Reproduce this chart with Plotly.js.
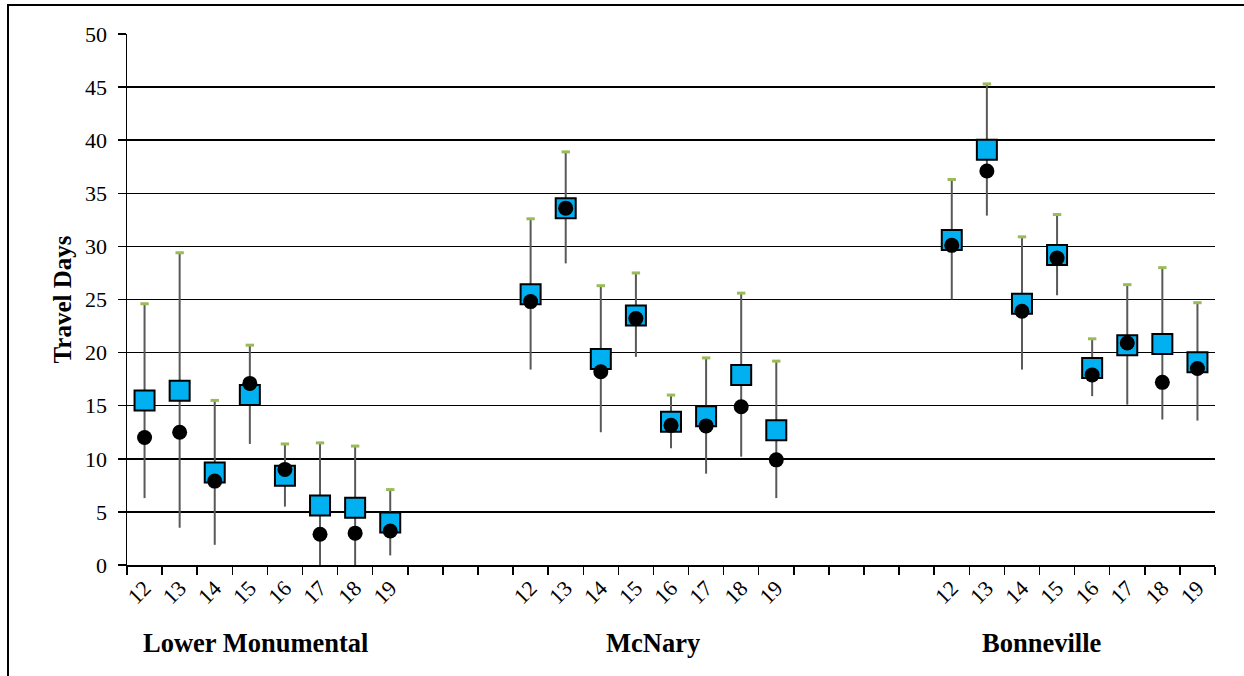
<!DOCTYPE html>
<html>
<head>
<meta charset="utf-8">
<script src="https://cdn.plot.ly/plotly-3.0.1.min.js"></script>
<style>
  html, body { margin: 0; padding: 0; background: #fff; }
  #chart { width: 1244px; height: 676px; }
  #frame { position: absolute; left: 7px; top: 4px; width: 1300px; height: 700px;
           border-left: 2px solid #000; border-top: 2px solid #000; pointer-events: none; }
</style>
</head>
<body>
<div id="chart"></div>
<div id="frame"></div>
<script>
// ---- data ----
const sites = ["Lower Monumental", "McNary", "Bonneville"];
const years = ["12", "13", "14", "15", "16", "17", "18", "19"];

const squareLM  = [15.5, 16.4, 8.7, 16.0, 8.4, 5.6, 5.4, 4.0];
const circleLM  = [12.0, 12.5, 7.9, 17.1, 9.0, 2.9, 3.0, 3.2];
const lowLM     = [6.3, 3.5, 1.9, 11.4, 5.5, 0.0, 0.0, 0.9];
const highLM    = [24.6, 29.4, 15.5, 20.7, 11.4, 11.5, 11.2, 7.1];

const squareMN  = [25.5, 33.6, 19.4, 23.5, 13.5, 14.0, 17.9, 12.7];
const circleMN  = [24.8, 33.6, 18.2, 23.2, 13.15, 13.1, 14.9, 9.9];
const lowMN     = [18.4, 28.4, 12.5, 19.6, 11.0, 8.6, 10.2, 6.3];
const highMN    = [32.6, 38.9, 26.3, 27.5, 16.0, 19.5, 25.6, 19.2];

const squareBO  = [30.6, 39.1, 24.6, 29.2, 18.55, 20.7, 20.8, 19.1];
const circleBO  = [30.1, 37.1, 23.9, 28.9, 17.9, 20.9, 17.2, 18.5];
const lowBO     = [25.0, 32.9, 18.4, 25.4, 15.9, 15.1, 13.7, 13.6];
const highBO    = [36.3, 45.3, 30.9, 33.0, 21.3, 26.4, 28.0, 24.7];

// ---- layout helpers ----
const gapSlots = [3, 4];          // empty category slots between site groups
const labelShift = [-0.34, 0, -0.94]; // group label offsets (slots)

const squares = [squareLM, squareMN, squareBO];
const circles = [circleLM, circleMN, circleBO];
const lows = [lowLM, lowMN, lowBO];
const highs = [highLM, highMN, highBO];

let xs = [], tickText = [], sq = [], ci = [], lo = [], hi = [];
let groupCenters = [];
let start = 0;
sites.forEach((s, g) => {
  years.forEach((yr, i) => {
    xs.push(start + i);
    tickText.push(yr);
    sq.push(squares[g][i]); ci.push(circles[g][i]);
    lo.push(lows[g][i]); hi.push(highs[g][i]);
  });
  groupCenters.push(start + (years.length - 1) / 2);
  start += years.length + (g < gapSlots.length ? gapSlots[g] : 0);
});
const nSlots = start;

const serif = "Liberation Serif";

const traces = [
  {
    type: "scatter", mode: "markers", x: xs, y: sq, hoverinfo: "y",
    marker: { symbol: "square", size: 20, color: "#00B0F0", line: { color: "#000", width: 2 } },
    error_y: {
      type: "data", symmetric: false,
      array: sq.map((v, i) => hi[i] - v),
      arrayminus: sq.map((v, i) => v - lo[i]),
      color: "#595959", thickness: 2, width: 0
    }
  },
  {
    type: "scatter", mode: "markers", x: xs, y: hi, hoverinfo: "y",
    marker: { symbol: "line-ew", size: 6, color: "#9BBB59", line: { color: "#9BBB59", width: 3 } }
  },
  {
    type: "scatter", mode: "markers", x: xs, y: ci, hoverinfo: "y",
    marker: { symbol: "circle", size: 15, color: "#000" }
  }
];

const layout = {
  width: 1244, height: 676,
  margin: { l: 127, r: 29, t: 34, b: 111 },
  paper_bgcolor: "#fff", plot_bgcolor: "#fff",
  showlegend: false,
  font: { family: serif, color: "#000" },
  xaxis: {
    range: [-0.5, nSlots - 0.5],
    tickmode: "array", tickvals: xs, ticktext: tickText,
    ticks: "", tickangle: -45,
    tickfont: { family: serif, size: 22, color: "#000" },
    showgrid: false, zeroline: false,
    showline: true, linecolor: "#000", linewidth: 1.5,
    minor: { tick0: 0.5, dtick: 1, ticks: "outside", ticklen: 8, tickwidth: 1.5, tickcolor: "#000", showgrid: false }
  },
  yaxis: {
    range: [0, 50], tickmode: "linear", tick0: 0, dtick: 5,
    ticks: "outside", ticklen: 8, tickwidth: 1.5, tickcolor: "#000",
    tickfont: { family: serif, size: 22, color: "#000" },
    ticklabelstandoff: 6,
    showgrid: true, gridcolor: "#000", gridwidth: 1.5,
    showline: true, linecolor: "#000", linewidth: 1.5, zeroline: false,
    title: { text: "<b>Travel Days</b>", font: { family: serif, size: 25, color: "#000" }, standoff: 6 }
  },
  annotations: sites.map((s, g) => ({
    text: "<b>" + s + "</b>", x: groupCenters[g] + labelShift[g], xref: "x",
    y: -0.146, yref: "paper", xanchor: "center", yanchor: "middle",
    showarrow: false, font: { family: serif, size: 26.5, color: "#000" }
  }))
};

Plotly.newPlot("chart", traces, layout, { displayModeBar: false, staticPlot: true });
</script>
</body>
</html>
